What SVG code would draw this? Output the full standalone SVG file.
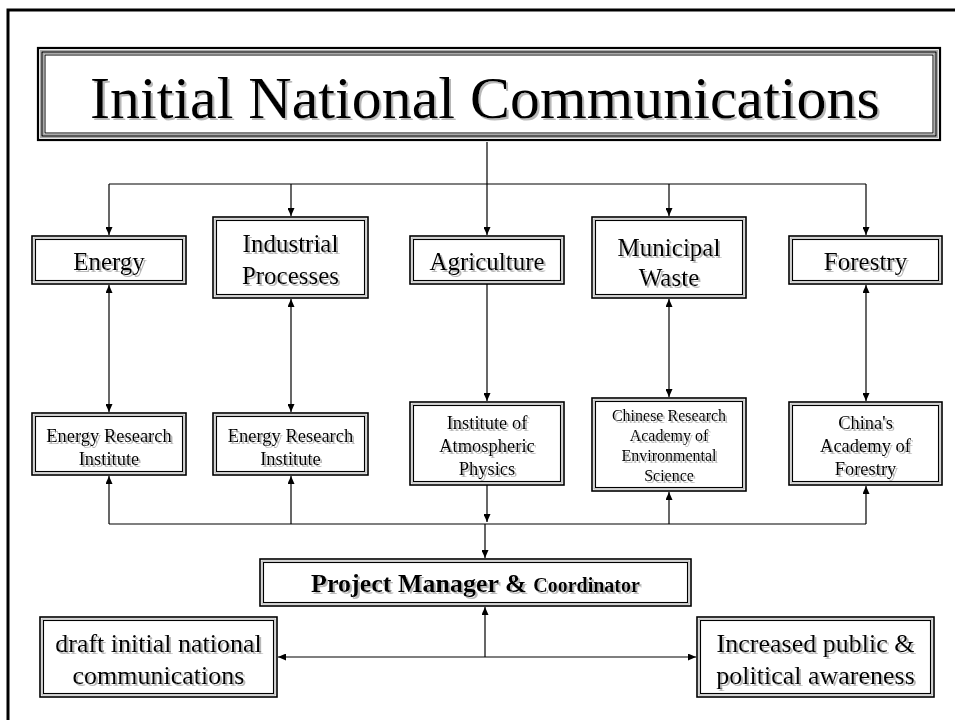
<svg xmlns="http://www.w3.org/2000/svg" width="955" height="720" viewBox="0 0 955 720">
  <style>
    text { font-family: "Liberation Serif", "Times New Roman", serif; fill: #000; text-anchor: middle; }
    .o { fill: #fff; stroke: #000; stroke-width: 1.6; }
    .m { fill: none; stroke: #aaa; stroke-width: 1; }
    .i { fill: none; stroke: #000; stroke-width: 1.1; }
    .conn path { fill: none; stroke: #000; stroke-width: 1.2; }
    .t1 { font-size: 25px; }
    .t2 { font-size: 18.5px; }
    .t3 { font-size: 16px; }
    .t4 { font-size: 26px; }
  </style>
  <defs>
    <marker id="ah" viewBox="0 0 8 7" refX="8" refY="3.5" markerWidth="8" markerHeight="7" markerUnits="userSpaceOnUse" orient="auto-start-reverse">
      <path d="M0,0 L8,3.5 L0,7 z" fill="#000"/>
    </marker>
    <filter id="sh" x="-5%" y="-20%" width="110%" height="140%">
      <feOffset in="SourceAlpha" dx="1.5" dy="1.5" result="off"/>
      <feFlood flood-color="#b8b8b8"/>
      <feComposite in2="off" operator="in" result="shadow"/>
      <feMerge><feMergeNode in="shadow"/><feMergeNode in="SourceGraphic"/></feMerge>
    </filter>
  </defs>

  <!-- page frame -->
  <path d="M8,720 V10 H955" fill="none" stroke="#000" stroke-width="3"/>

  <!-- title -->
  <g id="title">
    <rect x="38" y="48" width="902" height="92" fill="#fff" stroke="#000" stroke-width="2.2"/>
    <rect x="40.5" y="50.5" width="897" height="87" class="m"/>
    <rect x="42" y="52" width="894" height="84" fill="none" stroke="#000" stroke-width="1.3"/>
    <rect x="43.5" y="53.5" width="891" height="81" class="m"/>
    <rect x="45" y="55" width="888" height="78" fill="none" stroke="#000" stroke-width="1"/>
    <text x="485" y="118" font-size="60" filter="url(#sh)">Initial National Communications</text>
  </g>

  <!-- sector row -->
  <g id="energy">
    <rect x="32" y="236" width="154" height="48" class="o"/>
    <rect x="34" y="238" width="150" height="44" class="m"/>
    <rect x="35.5" y="239.5" width="147" height="41" class="i"/>
    <text x="109" y="270" class="t1" filter="url(#sh)">Energy</text>
  </g>
  <g id="industrial">
    <rect x="213" y="217" width="155" height="81" class="o"/>
    <rect x="215" y="219" width="151" height="77" class="m"/>
    <rect x="216.5" y="220.5" width="148" height="74" class="i"/>
    <text x="290.5" y="252" class="t1" filter="url(#sh)">Industrial</text>
    <text x="290.5" y="284" class="t1" filter="url(#sh)">Processes</text>
  </g>
  <g id="agriculture">
    <rect x="410" y="236" width="154" height="48" class="o"/>
    <rect x="412" y="238" width="150" height="44" class="m"/>
    <rect x="413.5" y="239.5" width="147" height="41" class="i"/>
    <text x="487" y="270" class="t1" filter="url(#sh)">Agriculture</text>
  </g>
  <g id="waste">
    <rect x="592" y="217" width="154" height="81" class="o"/>
    <rect x="594" y="219" width="150" height="77" class="m"/>
    <rect x="595.5" y="220.5" width="147" height="74" class="i"/>
    <text x="669" y="256" class="t1" filter="url(#sh)">Municipal</text>
    <text x="669" y="286" class="t1" filter="url(#sh)">Waste</text>
  </g>
  <g id="forestry">
    <rect x="789" y="236" width="153" height="48" class="o"/>
    <rect x="791" y="238" width="149" height="44" class="m"/>
    <rect x="792.5" y="239.5" width="146" height="41" class="i"/>
    <text x="865.5" y="270" class="t1" filter="url(#sh)">Forestry</text>
  </g>

  <!-- institute row -->
  <g id="eri1">
    <rect x="32" y="413" width="154" height="62" class="o"/>
    <rect x="34" y="415" width="150" height="58" class="m"/>
    <rect x="35.5" y="416.5" width="147" height="55" class="i"/>
    <text x="109" y="442" class="t2" filter="url(#sh)">Energy Research</text>
    <text x="109" y="465" class="t2" filter="url(#sh)">Institute</text>
  </g>
  <g id="eri2">
    <rect x="213" y="413" width="155" height="62" class="o"/>
    <rect x="215" y="415" width="151" height="58" class="m"/>
    <rect x="216.5" y="416.5" width="148" height="55" class="i"/>
    <text x="290.5" y="442" class="t2" filter="url(#sh)">Energy Research</text>
    <text x="290.5" y="465" class="t2" filter="url(#sh)">Institute</text>
  </g>
  <g id="iap">
    <rect x="410" y="402" width="154" height="83" class="o"/>
    <rect x="412" y="404" width="150" height="79" class="m"/>
    <rect x="413.5" y="405.5" width="147" height="76" class="i"/>
    <text x="487" y="429" class="t2" filter="url(#sh)">Institute of</text>
    <text x="487" y="452" class="t2" filter="url(#sh)">Atmospheric</text>
    <text x="487" y="475" class="t2" filter="url(#sh)">Physics</text>
  </g>
  <g id="craes">
    <rect x="592" y="398" width="154" height="93" class="o"/>
    <rect x="594" y="400" width="150" height="89" class="m"/>
    <rect x="595.5" y="401.5" width="147" height="86" class="i"/>
    <text x="669" y="421" class="t3" filter="url(#sh)">Chinese Research</text>
    <text x="669" y="441" class="t3" filter="url(#sh)">Academy of</text>
    <text x="669" y="461" class="t3" filter="url(#sh)">Environmental</text>
    <text x="669" y="481" class="t3" filter="url(#sh)">Science</text>
  </g>
  <g id="caf">
    <rect x="789" y="402" width="153" height="83" class="o"/>
    <rect x="791" y="404" width="149" height="79" class="m"/>
    <rect x="792.5" y="405.5" width="146" height="76" class="i"/>
    <text x="865.5" y="429" class="t2" filter="url(#sh)">China's</text>
    <text x="865.5" y="452" class="t2" filter="url(#sh)">Academy of</text>
    <text x="865.5" y="475" class="t2" filter="url(#sh)">Forestry</text>
  </g>

  <!-- coordination -->
  <g id="manager">
    <rect x="260" y="559" width="431" height="47" class="o"/>
    <rect x="262" y="561" width="427" height="43" class="m"/>
    <rect x="263.5" y="562.5" width="424" height="40" class="i"/>
    <text x="475.5" y="592" font-weight="bold" font-size="26" filter="url(#sh)">Project Manager &amp; <tspan font-size="20">Coordinator</tspan></text>
  </g>
  <g id="draft">
    <rect x="40" y="617" width="237" height="80" class="o"/>
    <rect x="42" y="619" width="233" height="76" class="m"/>
    <rect x="43.5" y="620.5" width="230" height="73" class="i"/>
    <text x="158.5" y="652" class="t4" filter="url(#sh)">draft initial national</text>
    <text x="158.5" y="684" class="t4" filter="url(#sh)">communications</text>
  </g>
  <g id="awareness">
    <rect x="697" y="617" width="237" height="80" class="o"/>
    <rect x="699" y="619" width="233" height="76" class="m"/>
    <rect x="700.5" y="620.5" width="230" height="73" class="i"/>
    <text x="815.5" y="652" class="t4" filter="url(#sh)">Increased public &amp;</text>
    <text x="815.5" y="684" class="t4" filter="url(#sh)">political awareness</text>
  </g>

  <!-- connectors -->
  <g id="connectors" class="conn">
    <path d="M487,142 V184"/>
    <path d="M109,184 H866"/>
    <path d="M109,184 V235" marker-end="url(#ah)"/>
    <path d="M291,184 V216" marker-end="url(#ah)"/>
    <path d="M487,184 V235" marker-end="url(#ah)"/>
    <path d="M669,184 V216" marker-end="url(#ah)"/>
    <path d="M866,184 V235" marker-end="url(#ah)"/>

    <path d="M109,285 V412" marker-start="url(#ah)" marker-end="url(#ah)"/>
    <path d="M291,299 V412" marker-start="url(#ah)" marker-end="url(#ah)"/>
    <path d="M487,284 V401" marker-end="url(#ah)"/>
    <path d="M669,299 V397" marker-start="url(#ah)" marker-end="url(#ah)"/>
    <path d="M866,285 V401" marker-start="url(#ah)" marker-end="url(#ah)"/>

    <path d="M109,524 H866"/>
    <path d="M109,524 V476" marker-end="url(#ah)"/>
    <path d="M291,524 V476" marker-end="url(#ah)"/>
    <path d="M669,524 V492" marker-end="url(#ah)"/>
    <path d="M866,524 V486" marker-end="url(#ah)"/>
    <path d="M487,485 V522" marker-end="url(#ah)"/>
    <path d="M485,524 V558" marker-end="url(#ah)"/>

    <path d="M485,657 V607" marker-end="url(#ah)"/>
    <path d="M278,657 H696" marker-start="url(#ah)" marker-end="url(#ah)"/>
  </g>
</svg>
